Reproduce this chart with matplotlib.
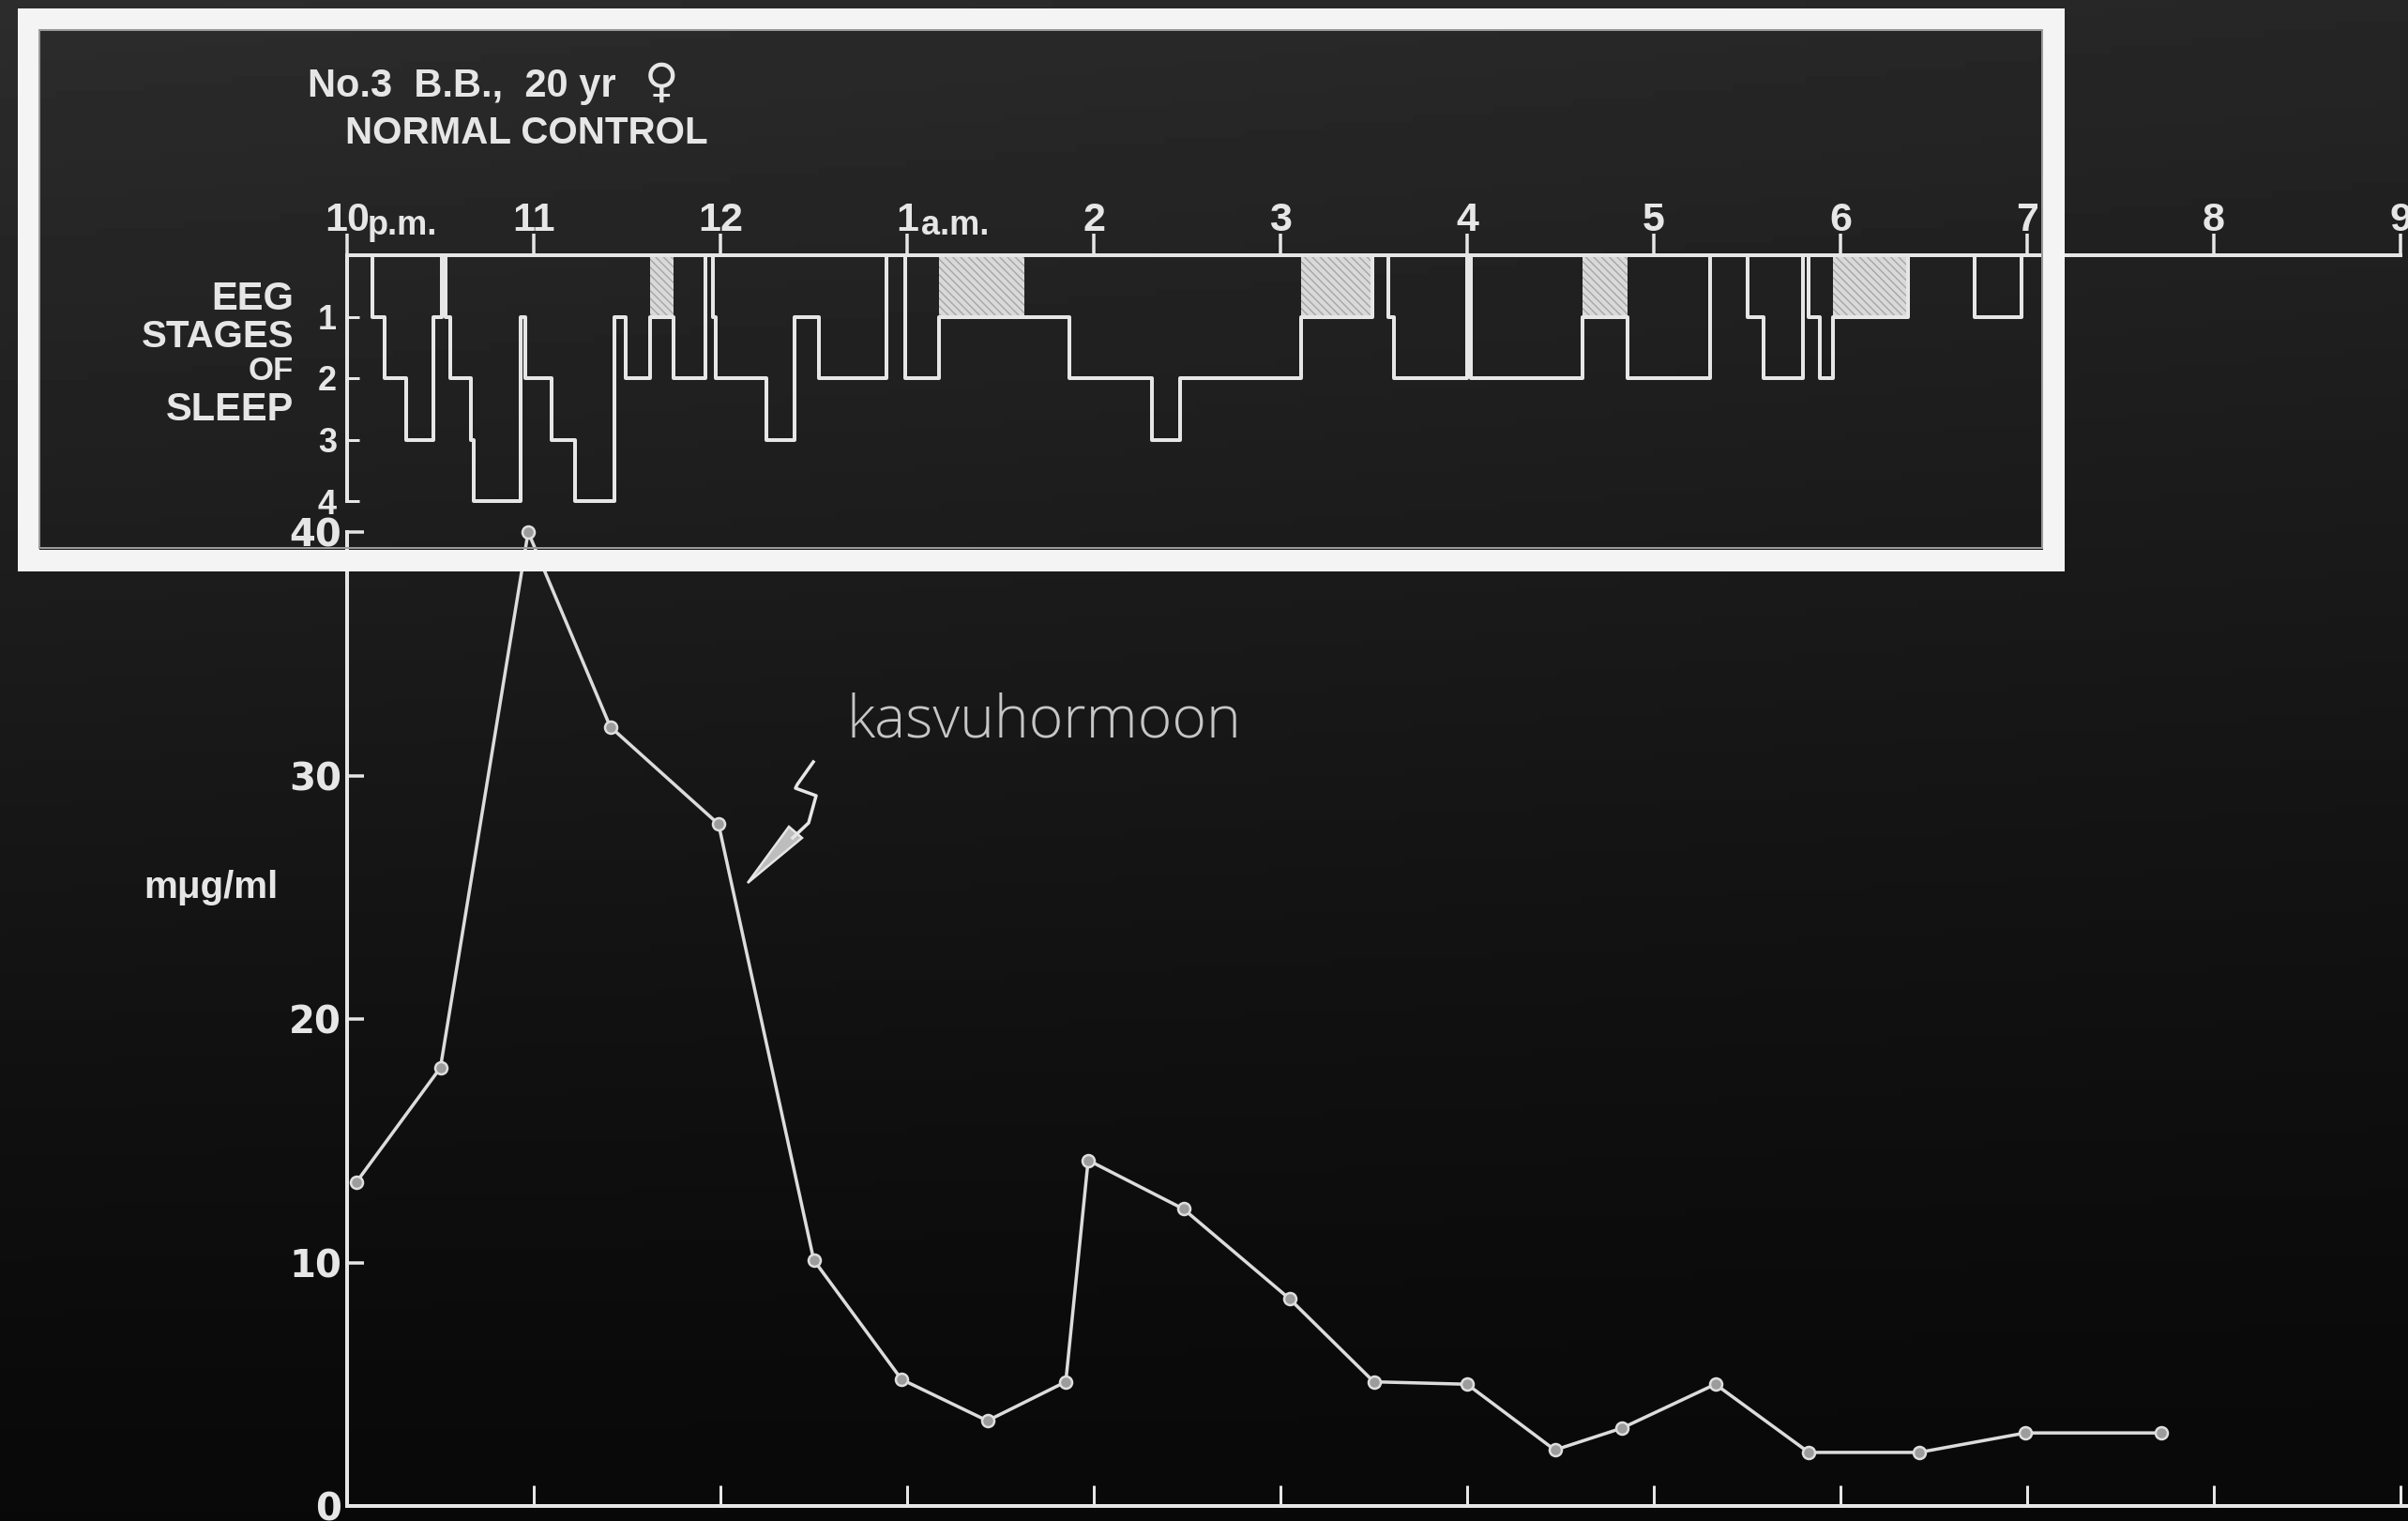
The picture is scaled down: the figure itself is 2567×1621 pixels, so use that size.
import numpy as np
import matplotlib
matplotlib.use("Agg")
import matplotlib.pyplot as plt
from matplotlib.patches import Rectangle, Polygon
from matplotlib.lines import Line2D

W, H, DPI = 2567, 1621, 100
INK = "#e6e6e6"
NARROW = ["Liberation Sans", "DejaVu Sans"]
ROUND = ["DejaVu Sans"]

# time axis: hours after 10 p.m.
hour_ticks = list(range(12))
hour_labels = ["10", "11", "12", "1", "2", "3", "4", "5", "6", "7", "8", "9"]
stage_ticks = [1, 2, 3, 4]
stage_labels = ["1", "2", "3", "4"]

# EEG stage (0 = awake) from each change time on
stage_times = [0.0, 0.134, 0.20, 0.317, 0.46, 0.51, 0.53, 0.555, 0.662, 0.68,
               0.93, 0.955, 1.096, 1.22, 1.43, 1.49, 1.625, 1.75, 1.918, 1.96,
               1.975, 2.245, 2.395, 2.53, 2.89, 2.99, 3.17, 3.87, 4.31, 4.46,
               5.11, 5.49, 5.58, 5.61, 6.00, 6.02, 6.62, 6.86, 7.30, 7.50,
               7.59, 7.80, 7.83, 7.89, 7.96, 8.36, 8.72, 8.97, 9.0]
stage_levels = [0, 1, 2, 3, 1, 0, 1, 2, 3, 4,
                1, 2, 3, 4, 1, 2, 1, 2, 0, 1,
                2, 3, 1, 2, 0, 2, 1, 2, 3, 2,
                1, 0, 1, 2, 0, 2, 1, 2, 0, 1,
                2, 0, 1, 2, 1, 0, 1, 0, 0]

# REM periods (shaded)
rem_start = [1.625, 3.17, 5.11, 6.62, 7.96]
rem_end = [1.75, 3.63, 5.49, 6.86, 8.36]

# growth hormone, mug/ml
gh_hours = [0.05, 0.50, 0.97, 1.41, 1.99, 2.50, 2.97, 3.43, 3.85, 3.97, 4.48,
            5.05, 5.50, 6.00, 6.47, 6.83, 7.33, 7.83, 8.42, 8.99, 9.72]
gh_values = [13.3, 18.0, 40.0, 32.0, 28.0, 10.1, 5.2, 3.5, 5.1, 14.2, 12.2,
             8.5, 5.1, 5.0, 2.3, 3.2, 5.0, 2.2, 2.2, 3.0, 3.0]


def fx(x):
    return x / W


def fy(y):
    return 1 - y / H


def box(x0, y0, x1, y1):
    return [fx(x0), fy(y1), (x1 - x0) / W, (y1 - y0) / H]


def pt(px):
    return px * 72 / DPI


fig = plt.figure(figsize=(W / DPI, H / DPI), dpi=DPI)

# dark background gradient
ax_bg = fig.add_axes([0, 0, 1, 1], zorder=-5)
gy, gx = np.mgrid[0:1:200j, 0:1:300j]
shade = 0.035 + 0.115 * (1 - gy) ** 1.3 + 0.025 * (1 - gx) * (1 - gy)
ax_bg.imshow(shade, cmap="gray", vmin=0, vmax=1, aspect="auto", extent=[0, 1, 0, 1])
ax_bg.set_axis_off()

px_per_hour = 199.0
x_max = (W - 370) / px_per_hour

# ---- growth hormone panel
ax = fig.add_axes(box(370, 567, W, 1605))
ax.patch.set_alpha(0)
ax.plot(gh_hours, gh_values, color="#dcdcdc", lw=pt(3.5), marker="o", ms=pt(13),
        mfc="#9c9c9c", mec="#dedede", mew=pt(2.5), clip_on=False, zorder=3)
ax.set_xlim(0, x_max)
ax.set_ylim(0, 40)
for side in ["top", "right"]:
    ax.spines[side].set_visible(False)
for side in ["left", "bottom"]:
    ax.spines[side].set_color(INK)
    ax.spines[side].set_linewidth(pt(4))
ax.spines["left"].set_bounds(0, 40)
ax.set_yticks([0, 10, 20, 30, 40])
ax.set_yticklabels(["0", "10", "20", "30", "40"])
ax.tick_params(axis="y", direction="in", length=pt(18), width=pt(3.5), color=INK,
               labelcolor=INK, labelsize=29, pad=pt(6))
for lab in ax.get_yticklabels():
    lab.set_fontfamily(ROUND)
    lab.set_fontweight("bold")
ax.set_xticks(hour_ticks[1:])
ax.set_xticklabels([])
ax.tick_params(axis="x", direction="in", length=pt(22), width=pt(3), color=INK)

# ---- sleep stage panel
ax2 = fig.add_axes(box(370, 200, W, 545))
ax2.patch.set_alpha(0)
y_top = (200 - 272) / 65.5
y_bot = (545 - 272) / 65.5
ax2.set_xlim(0, x_max)
ax2.set_ylim(y_bot, y_top)
ax2.bar(rem_start, [1] * len(rem_start),
        width=[e - s for s, e in zip(rem_start, rem_end)], bottom=0, align="edge",
        color="#d9d9d9", edgecolor="#a6a6a6", hatch="\\\\\\\\", linewidth=0, zorder=1)
ax2.step(stage_times, stage_levels, where="post", color=INK, lw=pt(4), zorder=2)
for side in ["bottom", "right"]:
    ax2.spines[side].set_visible(False)
ax2.spines["top"].set_position(("data", 0))
ax2.spines["top"].set_bounds(0, 11)
ax2.spines["left"].set_bounds(0, 4)
for side in ["top", "left"]:
    ax2.spines[side].set_color(INK)
    ax2.spines[side].set_linewidth(pt(4))
ax2.xaxis.set_ticks_position("top")
ax2.set_xticks(hour_ticks)
ax2.set_xticklabels(hour_labels)
ax2.tick_params(axis="x", direction="out", length=pt(23), width=pt(3.5), color=INK,
                labelcolor=INK, labelsize=31, pad=-pt(6))
for lab in ax2.get_xticklabels():
    lab.set_fontfamily(NARROW)
    lab.set_fontweight("bold")
ax2.set_yticks(stage_ticks)
ax2.set_yticklabels(stage_labels)
ax2.tick_params(axis="y", direction="in", length=pt(13), width=pt(3), color=INK,
                labelcolor=INK, labelsize=26, pad=pt(11))
for lab in ax2.get_yticklabels():
    lab.set_fontfamily(NARROW)
    lab.set_fontweight("bold")

# ---- texts
fig.text(fx(328), fy(103), "No.3  B.B.,  20 yr", color=INK, fontsize=30,
         family=NARROW, weight="bold", va="baseline")
fig.text(fx(705), fy(103), "\u2640", color=INK, fontsize=36, family=ROUND,
         weight="bold", ha="center", va="baseline")
fig.text(fx(368), fy(153), "NORMAL CONTROL", color=INK, fontsize=29,
         family=NARROW, weight="bold", va="baseline")
fig.text(fx(392), fy(250), "p.m.", color=INK, fontsize=26, family=NARROW,
         weight="bold", va="baseline")
fig.text(fx(982), fy(250), "a.m.", color=INK, fontsize=26, family=NARROW,
         weight="bold", va="baseline")
for word, base, size in [("EEG", 330, 30), ("STAGES", 370, 29), ("OF", 405, 25), ("SLEEP", 448, 30)]:
    fig.text(fx(313), fy(base), word, color=INK, fontsize=size, family=NARROW,
             weight="bold", ha="right", va="baseline")
fig.text(fx(225), fy(946), "m\u03bcg/ml", color=INK, fontsize=29, family=NARROW,
         weight="bold", ha="center", va="center")
fig.text(fx(902), fy(785), "kasvuhormoon", color="#c6c6c6", fontsize=45,
         family=["Open Sans", "DejaVu Sans"], weight="light", va="baseline")

# squiggle arrow pointing at the curve
sq_x = [867, 850, 848, 870, 862, 845]
sq_y = [812, 836, 840, 848, 877, 893]
fig.add_artist(Line2D([fx(v) for v in sq_x], [fy(v) for v in sq_y],
                      transform=fig.transFigure, color=INK, lw=pt(3.5)))
fig.add_artist(Polygon([(fx(855), fy(893)), (fx(841), fy(881)), (fx(797), fy(941))],
                       closed=True, transform=fig.transFigure, fc="#bdbdbd",
                       ec=INK, lw=pt(2.5)))

# highlight frame over the sleep panel
fig.add_artist(Rectangle((fx(29.5), fy(596.5)), (2188.5 - 29.5) / W, (596.5 - 20) / H,
                         transform=fig.transFigure, fill=False, ec="#f4f4f4",
                         lw=pt(23), joinstyle="miter", zorder=20))
fig.add_artist(Rectangle((fx(41.5), fy(583.5)), (2177 - 41.5) / W, (583.5 - 32.5) / H,
                         transform=fig.transFigure, fill=False, ec="#9a9a9a",
                         lw=pt(2), zorder=21))

fig.savefig("out.png", dpi=DPI, facecolor="#141414")
